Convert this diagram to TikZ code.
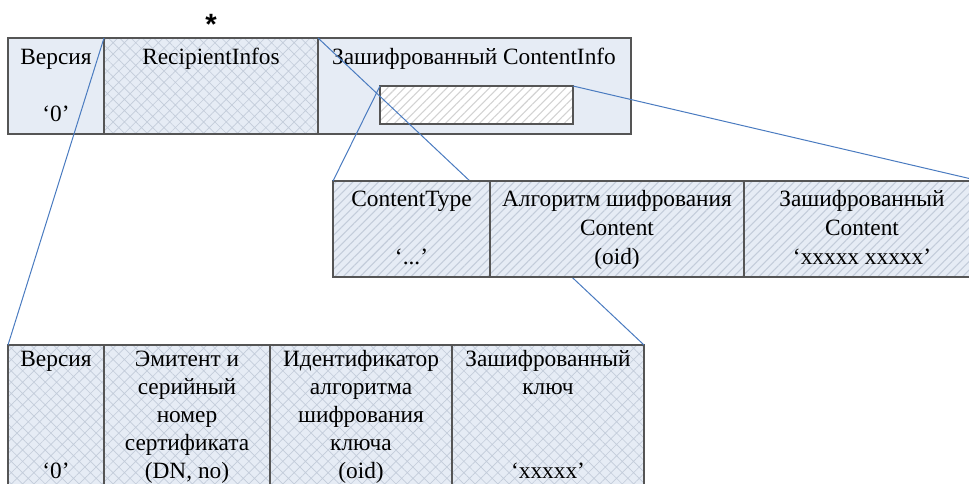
\documentclass[tikz,border=0pt]{standalone}
\usepackage{fontspec}
\setmainfont{Liberation Serif}
\newfontfamily\astfont{Liberation Sans}
\usetikzlibrary{patterns.meta}
\definecolor{cellfill}{HTML}{E6ECF5}
\definecolor{hatchcol}{HTML}{C3CCDA}
\definecolor{linkblue}{HTML}{4A7BC0}
\definecolor{edgegray}{HTML}{555555}
\newcommand\stack[1]{\begin{tabular}[t]{@{}c@{}}#1\end{tabular}}
\newcommand\cellbox[6]{\node[#6, minimum width={(#4-#2)*0.75pt}, minimum height={(#5-#3)*0.75pt}] (#1) at (#2,#3) {};}
\tikzset{
  cellbase/.style={draw=edgegray, line width=1.1pt, inner sep=0pt, outer sep=0pt, anchor=north west},
  plaincell/.style={cellbase, fill=cellfill},
  crosscell/.style={cellbase, preaction={fill=cellfill}, pattern={Hatch[angle=45,distance=6pt,line width=0.5pt]}, pattern color=hatchcol},
  stripecell/.style={cellbase, preaction={fill=cellfill}, pattern={Lines[angle=45,distance=4.5pt,line width=0.8pt]}, pattern color=hatchcol},
  innercell/.style={cellbase, preaction={fill=white}, pattern={Lines[angle=45,distance=4.5pt,line width=0.8pt]}, pattern color=gray!35},
  link/.style={draw=linkblue, line width=0.75pt},
  lbl/.style={anchor=base, inner sep=0pt, font=\fontsize{17.5}{21.4}\selectfont},
  blbl/.style={anchor=base, inner sep=0pt, font=\fontsize{17.5}{21}\selectfont},
}
\begin{document}
\begin{tikzpicture}[x=0.75pt, y=-0.75pt]
\path[use as bounding box, clip] (0,0) rectangle (969,484);
% top row
\cellbox{ver}{8}{38}{104}{134}{plaincell}
\cellbox{ri}{104}{38}{318}{134}{crosscell}
\cellbox{eci}{318}{38}{631}{134}{plaincell}
\cellbox{inner}{380}{86}{573}{124}{innercell}
\node[lbl] (tver) at (56,65) {Версия};
\node[lbl] (tver0) at (56,122) {‘0’};
\node[lbl] (tri) at (211,65) {RecipientInfos};
\node[lbl] (teci) at (474,65) {Зашифрованный ContentInfo};
\node[anchor=base, inner sep=0pt, font=\astfont\bfseries\fontsize{22}{24}\selectfont] (ast) at (211,35) {*};
% bottom row
\cellbox{bver}{8}{345}{104}{500}{crosscell}
\cellbox{bis}{104}{345}{270}{500}{crosscell}
\cellbox{bid}{270}{345}{452}{500}{crosscell}
\cellbox{bkey}{452}{345}{644}{500}{crosscell}
\node[blbl] (lbver) at (56,366) {Версия};
\node[blbl] (lbver0) at (56,478) {‘0’};
\node[blbl] (lbis) at (187,366) {\stack{Эмитент и\\серийный\\номер\\сертификата\\(DN, no)}};
\node[blbl] (lbid) at (361,366) {\stack{Идентификатор\\алгоритма\\шифрования\\ключа\\(oid)}};
\node[blbl] (lbkey) at (548,366) {\stack{Зашифрованный\\ключ}};
\node[blbl] (lbkeyx) at (548,478) {‘xxxxx’};
% links behind middle row
\draw[link] (ri.north west) -- (bver.north west);
\draw[link] (ri.north east) -- (bkey.north east);
% middle row
\cellbox{ct}{333}{181}{490}{277}{stripecell}
\cellbox{alg}{490}{181}{744}{277}{stripecell}
\cellbox{ec}{744}{181}{980}{277}{stripecell}
\node[lbl] (lct) at (411.5,207) {ContentType};
\node[lbl] (lctv) at (411.5,264) {‘...’};
\node[lbl] (lalg) at (617,207) {\stack{Алгоритм шифрования\\Content\\(oid)}};
\node[lbl] (lec) at (862,207) {\stack{Зашифрованный\\Content\\‘xxxxx xxxxx’}};
% links from inner box
\draw[link] (inner.north west) -- (ct.north west);
\draw[link] (inner.north east) -- (ec.north east);
\end{tikzpicture}
\end{document}
